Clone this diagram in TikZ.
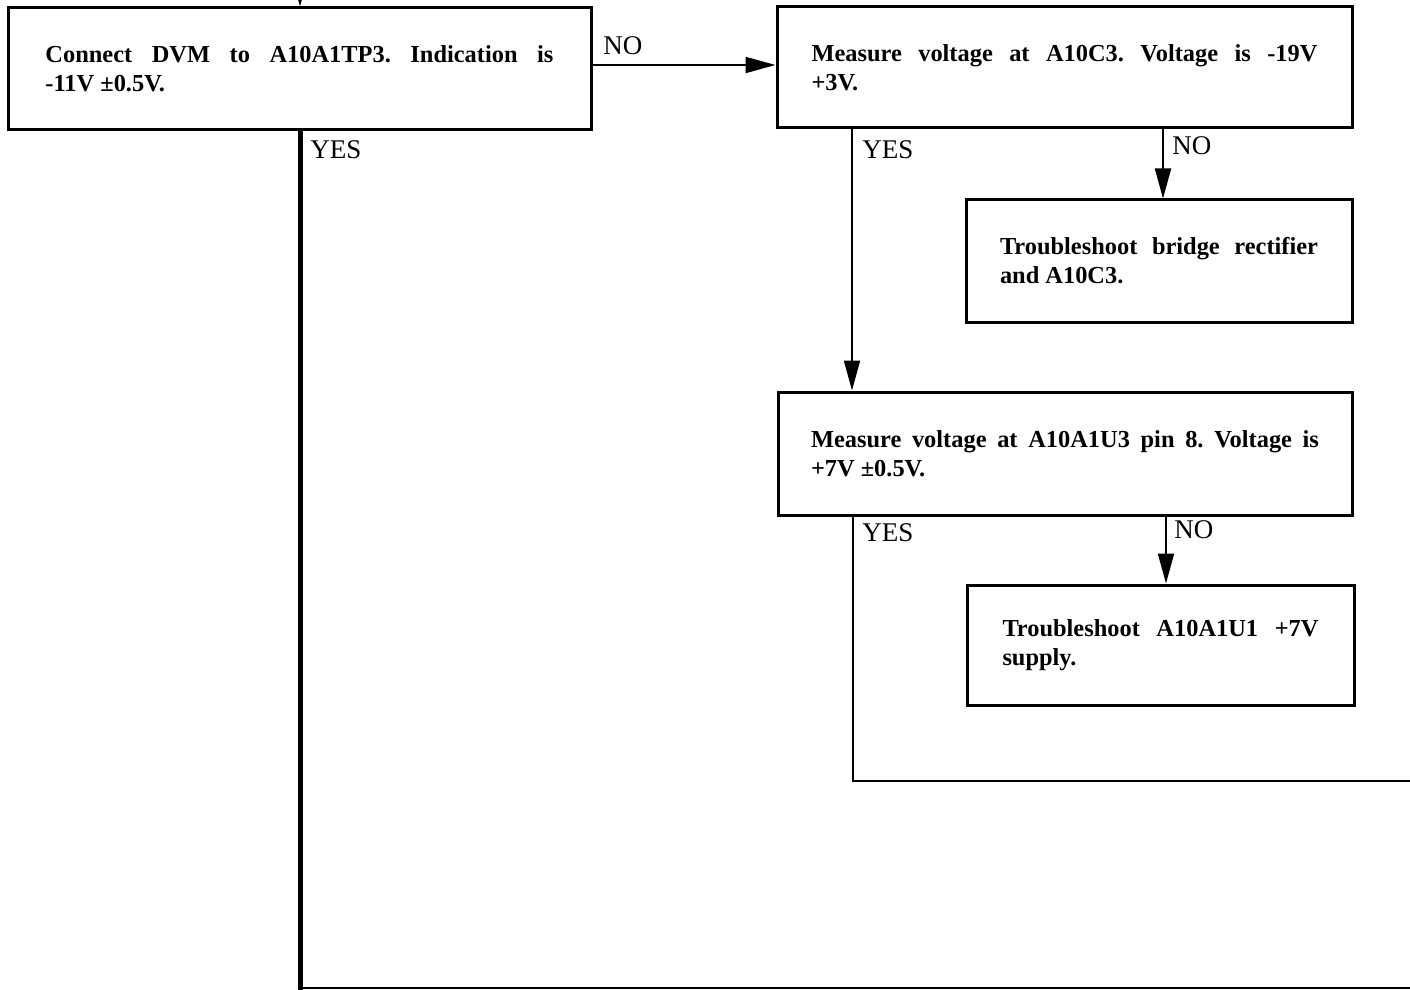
\documentclass[tikz,border=0pt]{standalone}
\usepackage{fontspec}
\setmainfont{Liberation Serif}
\usetikzlibrary{arrows.meta}
\frenchspacing
\begin{document}
\begin{tikzpicture}[x=0.5pt,y=-0.5pt,
  box/.style={draw,line width=1.5pt,inner sep=0pt,align=justify,font=\frenchspacing\bfseries\fontsize{12.2}{14.5}\selectfont},
  lbl/.style={anchor=west,inner sep=0pt,font=\fontsize{13.5}{16}\selectfont},
  flow/.style={line width=1pt,-{Triangle[length=15pt,width=8pt]}},
  plain/.style={line width=1pt},
  mainline/.style={line width=2.5pt}]
\useasboundingbox (0,0) rectangle (1410,990);
\clip (0,0) rectangle (1410,990);
\node[box, minimum width=291.5pt, minimum height=61pt, text width=254pt] (b1) at (299.5,69)
  {Connect DVM to A10A1TP3. Indication is\linebreak -11V ±0.5V.};
\node[box, minimum width=287.5pt, minimum height=60.5pt, text width=253pt] (b2) at (1064.5,67.5)
  {Measure voltage at A10C3. Voltage is -19V\linebreak +3V.};
\node[box, minimum width=193pt, minimum height=61pt, text width=159pt] (b3) at (1159,261)
  {Troubleshoot bridge rectifier\linebreak and A10C3.};
\node[box, minimum width=287pt, minimum height=61.5pt, text width=254pt] (b4) at (1065,453.5)
  {Measure voltage at A10A1U3 pin 8. Voltage is\linebreak +7V ±0.5V.};
\node[box, minimum width=193.5pt, minimum height=60pt, text width=158pt] (b5) at (1160.5,645)
  {Troubleshoot A10A1U1 +7V\linebreak supply.};
% coordinates
\coordinate (top) at (300,-60);
\coordinate (c1) at (300,988);
\coordinate (c1b) at (300,1000);
\coordinate (c1e) at (1420,988);
\coordinate (no1) at (0,65);
\coordinate (y2) at (852,0);
\coordinate (n2) at (1163,0);
\coordinate (y4c) at (853,781);
\coordinate (y4e) at (1420,781);
\coordinate (n4) at (1166,0);
% connectors
\draw[flow] (top) -- (b1.north -| top);
\draw[mainline] (b1.south -| c1) -- (c1b);
\draw[plain] (c1) -- (c1e);
\draw[flow] (b1.east |- no1) -- (b2.west |- no1);
\draw[flow] (b2.south -| y2) -- (b4.north -| y2);
\draw[flow] (b2.south -| n2) -- (b3.north -| n2);
\draw[plain] (b4.south -| y4c) -- (y4c) -- (y4e);
\draw[flow] (b4.south -| n4) -- (b5.north -| n4);
% labels
\node[lbl] (lno1) at (603,46) {NO};
\node[lbl] (lyes1) at (310,150) {YES};
\node[lbl] (lyes2) at (862,150) {YES};
\node[lbl] (lno2) at (1172,146) {NO};
\node[lbl] (lyes3) at (862,533) {YES};
\node[lbl] (lno3) at (1174,530) {NO};
\end{tikzpicture}
\end{document}
